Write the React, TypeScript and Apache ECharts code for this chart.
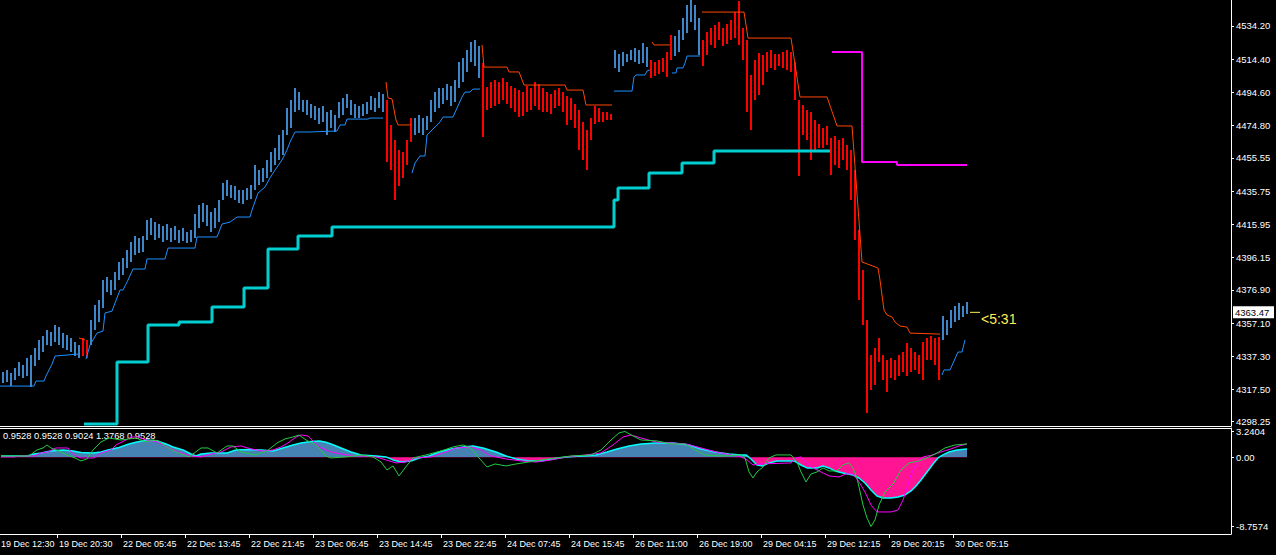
import React, { useEffect, useRef } from 'react';
import * as echarts from 'echarts';

// ---- axes ----
const priceTicks = [4534.2, 4514.4, 4494.6, 4474.8, 4455.55, 4435.75, 4415.95, 4396.15, 4376.9, 4357.1, 4337.3, 4317.5, 4298.25];
const timeTickIdx = [-4, 28, 60, 92, 124, 156, 188, 220, 252, 284, 316, 348, 380, 412, 444, 476];
const timeLabels = ['19 Dec 12:30', '19 Dec 20:30', '22 Dec 05:45', '22 Dec 13:45', '22 Dec 21:45', '23 Dec 06:45', '23 Dec 14:45', '23 Dec 22:45', '24 Dec 07:45', '24 Dec 15:45', '26 Dec 11:00', '26 Dec 19:00', '29 Dec 04:15', '29 Dec 12:15', '29 Dec 20:15', '30 Dec 05:15'];
const indTicks = [3.2404, 0, -8.7574];
const indHeader = '0.9528 0.9528 0.9024 1.3768 0.9528';
const lastPrice = 4363.47;
const timerText = '<5:31';

// ---- price bars (30-min sampling of the M15 chart) ----
const highs = [
  4327.9, 4329.1, 4327.3, 4330.3, 4333.8, 4332.1, 4336.2, 4338.0, 4342.2, 4347.0,
  4349.3, 4352.9, 4351.7, 4355.9, 4354.7, 4351.1, 4349.9, 4348.2, 4345.8, 4344.0,
  4348.2, 4347.0, 4358.9, 4367.8, 4370.8, 4382.7, 4384.5, 4382.7, 4387.5, 4393.5,
  4395.9, 4400.6, 4405.4, 4409.0, 4407.8, 4409.0, 4418.5, 4419.7, 4417.3, 4416.1,
  4414.9, 4416.1, 4413.7, 4414.9, 4412.6, 4413.7, 4411.4, 4412.6, 4422.1, 4427.5,
  4428.7, 4427.5, 4423.3, 4425.7, 4430.4, 4440.6, 4442.4, 4439.4, 4438.8, 4436.4,
  4436.4, 4437.6, 4439.4, 4451.3, 4448.3, 4449.5, 4454.3, 4459.1, 4461.4, 4469.2,
  4472.2, 4485.3, 4490.1, 4497.2, 4494.8, 4490.1, 4490.1, 4487.7, 4486.5, 4485.3,
  4486.5, 4482.9, 4484.1, 4481.1, 4488.9, 4491.3, 4493.6, 4490.1, 4487.7, 4486.5,
  4487.7, 4488.9, 4492.5, 4491.3, 4494.8, 4493.6, 4490.1, 4475.2, 4466.2, 4460.3,
  4459.1, 4466.2, 4479.3, 4479.3, 4481.1, 4479.3, 4480.5, 4490.1, 4494.8, 4497.2,
  4497.2, 4499.6, 4498.4, 4502.0, 4512.7, 4515.1, 4519.9, 4524.7, 4525.8, 4522.3,
  4512.1, 4497.8, 4500.8, 4502.0, 4500.8, 4503.2, 4500.8, 4498.4, 4497.2, 4496.0,
  4494.8, 4498.4, 4497.2, 4500.8, 4499.6, 4497.2, 4494.8, 4493.6, 4496.0, 4497.2,
  4494.8, 4492.5, 4491.3, 4487.7, 4484.1, 4477.0, 4472.2, 4479.3, 4486.5, 4485.3,
  4482.9, 4482.9, 4481.7, 4519.9, 4517.5, 4518.7, 4517.5, 4519.9, 4521.1, 4519.9,
  4524.1, 4521.7, 4513.9, 4512.7, 4513.9, 4515.1, 4518.7, 4528.8, 4528.2, 4531.8,
  4539.0, 4546.7, 4549.7, 4546.7, 4539.0, 4525.8, 4530.6, 4533.0, 4534.8, 4536.6,
  4533.0, 4535.4, 4537.8, 4542.5, 4549.1, 4533.0, 4525.8, 4505.0, 4513.9, 4518.1,
  4516.9, 4518.7, 4519.9, 4517.5, 4517.5, 4518.7, 4519.9, 4518.7, 4512.7, 4490.1,
  4487.1, 4484.1, 4482.9, 4478.1, 4475.8, 4473.4, 4474.6, 4467.4, 4468.6, 4466.2,
  4467.4, 4463.2, 4460.3, 4448.3, 4412.6, 4388.7, 4358.9, 4338.0, 4342.2, 4348.2,
  4338.0, 4335.0, 4336.2, 4335.0, 4338.0, 4339.8, 4345.2, 4342.2, 4339.8, 4338.0,
  4345.8, 4348.2, 4349.3, 4348.2, 4348.8, 4361.3, 4358.9, 4364.8, 4367.2, 4369.0,
  4367.2, 4369.6
];
const lows = [
  4321.3, 4321.9, 4319.5, 4323.1, 4325.5, 4324.3, 4325.5, 4318.9, 4331.5, 4335.0,
  4339.8, 4344.0, 4343.4, 4345.8, 4344.0, 4342.2, 4341.0, 4339.8, 4337.4, 4336.2,
  4337.4, 4336.2, 4344.0, 4352.9, 4357.7, 4366.0, 4375.6, 4373.8, 4376.8, 4382.7,
  4385.7, 4389.9, 4393.5, 4397.6, 4398.8, 4399.4, 4406.6, 4409.6, 4406.6, 4407.8,
  4405.4, 4406.6, 4405.4, 4406.6, 4404.8, 4406.0, 4404.8, 4405.4, 4407.8, 4413.7,
  4417.3, 4414.9, 4411.4, 4413.7, 4417.3, 4430.4, 4432.8, 4431.6, 4430.4, 4428.7,
  4428.1, 4430.4, 4431.0, 4436.4, 4439.4, 4441.2, 4443.6, 4447.1, 4451.3, 4454.3,
  4457.3, 4469.2, 4473.4, 4482.9, 4484.1, 4482.9, 4481.1, 4479.3, 4478.1, 4475.8,
  4477.0, 4469.2, 4473.4, 4471.0, 4479.3, 4481.1, 4485.3, 4481.1, 4479.3, 4479.3,
  4480.5, 4481.7, 4484.1, 4482.9, 4485.3, 4482.9, 4453.1, 4448.3, 4430.4, 4438.8,
  4443.6, 4451.3, 4465.0, 4469.2, 4470.4, 4469.2, 4472.2, 4477.0, 4482.9, 4485.3,
  4487.7, 4490.1, 4486.5, 4488.9, 4497.2, 4500.8, 4506.8, 4512.7, 4510.3, 4503.2,
  4468.0, 4484.1, 4485.3, 4486.5, 4487.7, 4490.1, 4487.7, 4485.3, 4482.9, 4479.9,
  4480.5, 4482.9, 4484.1, 4486.5, 4484.1, 4482.9, 4482.9, 4481.7, 4485.3, 4486.5,
  4482.9, 4475.2, 4478.1, 4473.4, 4460.3, 4454.3, 4448.3, 4466.2, 4475.8, 4477.0,
  4477.0, 4478.1, 4478.1, 4509.2, 4506.8, 4510.3, 4512.7, 4513.9, 4512.7, 4511.5,
  4512.1, 4509.7, 4503.2, 4504.4, 4505.6, 4506.8, 4503.8, 4513.9, 4516.3, 4518.7,
  4525.8, 4530.0, 4536.6, 4531.8, 4516.9, 4510.3, 4516.9, 4522.9, 4521.1, 4525.8,
  4522.3, 4523.5, 4525.8, 4527.0, 4522.9, 4513.9, 4482.9, 4472.2, 4490.1, 4493.1,
  4499.0, 4506.8, 4509.2, 4508.0, 4510.3, 4509.2, 4508.0, 4506.8, 4490.1, 4444.8,
  4469.2, 4466.2, 4454.3, 4460.3, 4461.4, 4461.4, 4463.2, 4445.3, 4451.3, 4449.5,
  4454.3, 4448.3, 4430.4, 4406.6, 4370.8, 4355.9, 4303.4, 4317.1, 4320.1, 4333.8,
  4323.1, 4315.9, 4324.3, 4323.1, 4325.5, 4327.9, 4325.5, 4327.9, 4329.1, 4326.7,
  4323.1, 4335.0, 4335.0, 4332.1, 4323.1, 4347.0, 4350.0, 4354.1, 4357.7, 4358.9,
  4360.7, 4362.5
];
// bar ranges (inclusive) drawn in the down-trend colour
const downRanges = [[20, 21], [96, 102], [120, 152], [162, 167], [175, 234]];

// ---- trailing lines: [bar index, price] ----
const supportSegs = [
  [[-0.5, 4319.5], [16.5, 4319.5], [17.5, 4322.5], [21.5, 4322.5], [22.5, 4325.5], [25.5, 4332.6], [27, 4337.4], [38.5, 4338.6]],
  [[42.5, 4335.6], [44.5, 4344.0], [48, 4351.1], [51, 4352.3], [52, 4363.1], [55.5, 4364.2], [57, 4369.0], [59.5, 4376.8], [61, 4376.8], [63.5, 4382.7], [66, 4389.3], [72, 4389.3], [73, 4395.3], [82, 4395.3], [83.5, 4401.8], [97, 4401.8], [98, 4408.4], [108, 4408.4], [110.5, 4416.1], [114.5, 4417.3], [118, 4420.3], [124.5, 4420.3], [125.5, 4424.5], [128.5, 4434.6], [132, 4438.2], [134.5, 4443.6], [137, 4448.3], [140.5, 4454.3], [143, 4460.3], [144.5, 4465.0], [147, 4471.0], [154.5, 4471.0], [168, 4471.6], [169.5, 4475.2], [172, 4475.2], [173, 4478.7], [183.5, 4478.7], [184.5, 4479.3], [191, 4479.3]],
  [[205.5, 4446.5], [207, 4452.5], [209.5, 4456.7], [212, 4456.7], [213, 4469.2], [215.5, 4472.2], [219.5, 4477.0], [221, 4479.9], [226, 4479.9], [228, 4485.3], [230.5, 4491.9], [232, 4494.8], [234.5, 4494.8], [236, 4496.6], [239.5, 4496.6]],
  [[306.5, 4495.4], [315.5, 4495.4], [316.5, 4503.8], [317.5, 4505.0], [322, 4505.0], [323, 4507.4], [324.5, 4508.0]],
  [[335.5, 4506.2], [337.5, 4506.2], [338, 4509.2], [341, 4509.2], [342, 4512.1], [343, 4516.3], [349.5, 4516.3]],
  [[470.5, 4326.1], [471.5, 4329.1], [474.5, 4329.1], [478.5, 4339.8], [480.5, 4339.8], [482, 4347.0]]
];
const resistanceSegs = [
  [[39, 4348.2], [42, 4347.0]],
  [[192.5, 4500.8], [193.5, 4491.3], [195.5, 4490.7], [197.5, 4478.1], [198.5, 4475.2], [205, 4475.2]],
  [[240.5, 4522.9], [241.5, 4509.7], [253, 4509.7], [254, 4506.8], [259, 4506.8], [261.5, 4499.0], [282, 4499.0], [283, 4496.0], [291, 4496.0], [292.5, 4487.1], [305.5, 4487.1]],
  [[325.5, 4524.7], [326.5, 4522.9], [334.5, 4522.9]],
  [[350.5, 4542.5], [371.5, 4542.5], [373.5, 4527.0], [395, 4527.0], [399.5, 4491.9], [413, 4491.9], [418, 4474.6], [425.5, 4474.6], [427.5, 4442.4], [430.5, 4393.5], [438.5, 4389.9], [439.5, 4382.7], [441.5, 4364.8], [443, 4361.9], [445.5, 4360.7], [447, 4357.7], [449.5, 4355.3], [453, 4354.7], [454.5, 4351.1], [469.5, 4350.5]]
];
const cyanSteps = [[41.5, 4296.9], [58, 4333.8], [73.5, 4355.9], [89, 4357.7], [105.5, 4366.6], [121.5, 4378.0], [133.5, 4401.2], [148.5, 4409.0], [165.5, 4414.3], [306.5, 4430.4], [308.5, 4437.6], [324, 4446.5], [340.5, 4452.5], [356.5, 4459.7], [414.5, 4459.7]];
const magentaSteps = [[415.5, 4518.7], [430.5, 4453.1], [448, 4451.3], [483, 4451.3]];

// ---- oscillator: [bar index, value] ----
const histPts = [
  [0, 0.15], [10, 0.15], [13.5, 0.19], [16.5, 0.40], [20, 0.53], [25, 0.78], [31, 0.91], [36, 0.78], [40, 0.59], [46, 0.53],
  [50, 0.66], [53.5, 0.91], [59, 1.23], [64, 1.67], [68, 1.92], [73, 2.17], [78, 2.05], [82.5, 1.67], [86, 1.29], [91, 0.91],
  [95, 0.40], [97.5, 0.15], [100, 0.40], [105, 0.53], [113, 0.53], [117.5, 0.91], [123.5, 0.98], [130, 0.91], [136, 0.78], [141, 1.16],
  [146, 1.54], [150, 1.79], [155, 1.99], [159, 2.05], [162, 1.92], [165, 1.67], [170, 1.16], [175, 0.66], [180, 0.28], [187.5, 0.15],
  [192.5, 0.03], [196, -0.35], [200, -0.61], [205, -0.48], [209, -0.10], [214, 0.15], [219, 0.66], [225, 1.04], [231, 1.29], [236, 1.41],
  [241, 1.16], [247.5, 0.66], [252.5, 0.15], [257.5, -0.23], [264, -0.48], [270, -0.48], [276, -0.23], [282.5, 0.03], [290, 0.15], [297.5, 0.28],
  [303, 0.66], [308, 1.04], [314, 1.41], [320, 1.67], [327.5, 1.79], [336, 1.79], [344, 1.54], [350, 1.04], [357, 0.66], [364, 0.40],
  [370, 0.28], [372.5, 0.28], [375, -0.23], [378, -1.0], [381, -1.11], [384, -0.73], [388, -0.48], [396.5, -0.48], [400, -0.99], [403, -1.36],
  [408, -1.36], [411, -1.11], [414, -1.36], [417, -1.74], [421, -2.0], [426, -2.25], [429, -2.63], [432, -3.26], [435, -4.14], [438, -4.90],
  [441, -5.15], [445, -5.15], [448.5, -5.03], [452, -4.77], [455, -4.27], [457.5, -3.64], [460, -2.88], [463, -1.87], [466, -0.86], [468.5, -0.10],
  [471, 0.28], [474, 0.66], [478, 0.91], [483, 1.04]
];
const greenPts = [
  [0, 0.15], [14, 0.15], [16, 0.53], [18, 0.91], [21, 1.16], [23, 1.54], [25, 1.16], [29, 0.78], [33, 0.28], [37, -0.10],
  [40, -0.48], [43, -0.23], [46, 0.91], [50, 1.92], [54, 2.42], [60, 2.17], [67.5, 2.42], [72.5, 1.92], [76, 2.17], [79, 2.05],
  [82.5, 1.29], [87.5, 0.66], [94, 0.03], [100, 1.16], [103.5, 1.16], [108, 0.53], [113, 1.41], [116, 1.41], [120, 0.66], [127, 0.28],
  [133, 0.78], [138, 1.79], [142, 2.30], [146, 2.55], [149, 2.80], [152.5, 2.17], [157.5, 1.54], [162.5, 0.15], [165, -0.10], [172.5, 0.03],
  [180, 0.28], [186, 0.03], [190, -0.61], [193, -1.62], [196, -1.11], [199, -2.37], [202, -1.36], [206, -0.10], [212.5, 0.28], [220, 0.78],
  [226, 1.29], [231, 1.54], [235, 1.16], [239, -0.10], [243, -1.24], [247, -0.86], [252.5, -1.11], [257.5, -0.86], [264, -0.61], [270, -0.35],
  [277.5, -0.10], [285, 0.15], [295, 0.28], [300, 0.91], [305, 2.17], [309, 3.06], [312, 3.2404], [316, 2.68], [320, 2.17], [328, 2.05],
  [335, 1.67], [342, 1.67], [347, 0.91], [352, 0.28], [360, 0.15], [370, 0.28], [372, -0.10], [374, -1.87], [376, -2.63], [378, -1.87],
  [381, -1.24], [384, -0.10], [387.5, 0.28], [395, 0.28], [398, -0.61], [400, -1.87], [402.5, -3.13], [405, -2.12], [408, -1.87], [411, -1.36],
  [414, -1.74], [418, -1.74], [421, -0.99], [424, -0.73], [426, -1.36], [428, -2.63], [431, -6.04], [433, -7.68], [435, -8.7574], [437, -7.93],
  [439, -6.04], [442, -4.40], [446, -3.39], [450, -1.62], [454, -0.73], [459, -0.48], [464, 0.03], [468, 0.53], [472, 1.16], [477, 1.54],
  [483, 1.67]
];
const magentaPts = [
  [0, 0.03], [6.5, 0.03], [10, 0.15], [16.5, 0.15], [20, 0.53], [23.5, 0.66], [27.5, 1.16], [33.5, 1.16], [35, 0.66], [37.5, 0.15],
  [40, -0.10], [46.5, -0.10], [50, 0.53], [55, 0.91], [57.5, 1.54], [62.5, 2.17], [65, 2.55], [68.5, 2.55], [72.5, 2.17], [78.5, 1.92],
  [82.5, 1.29], [88.5, 0.66], [95, 0.15], [100, 0.03], [105, 0.40], [110, 0.66], [115, 1.29], [120, 1.41], [125, 1.04], [131, 0.78],
  [136, 0.91], [140, 1.29], [143.5, 1.79], [147.5, 2.55], [150, 2.80], [153.5, 2.68], [156.5, 1.92], [160, 1.16], [165, 0.66], [172.5, 0.28],
  [180, 0.15], [187.5, 0.03], [192.5, -0.35], [197.5, -0.73], [202.5, -0.61], [207.5, -0.10], [215, 0.03], [222.5, 0.66], [227.5, 1.16], [235, 1.29],
  [240, 0.91], [245, 0.15], [252.5, -0.23], [260, -0.48], [267.5, -0.61], [275, -0.35], [282.5, 0.03], [292.5, 0.28], [300, 0.53], [306, 1.54],
  [311, 2.55], [315, 2.80], [320, 2.42], [327.5, 1.92], [335, 1.79], [342.5, 1.67], [350, 1.16], [357.5, 0.66], [365, 0.28], [370, 0.03],
  [373, -0.35], [376, -0.99], [380, -0.86], [395, -0.73], [397.5, -0.10], [400, 0.03], [402.5, -0.61], [406, -1.36], [410, -1.87], [414, -2.37],
  [419, -2.50], [422.5, -2.12], [426, -2.12], [429, -3.13], [432, -4.40], [435, -6.04], [438, -6.92], [445, -6.92], [448.5, -6.67], [451, -5.41],
  [453, -3.89], [455, -2.25], [458, -0.61], [461, 0.03], [466, 0.28], [470, 0.66], [475, 1.04], [479, 1.41], [483, 1.67]
];

const FONT = 'Liberation Sans, Arial, sans-serif';
const UP_FILL = '#4682b4';
const DOWN_FILL = '#ff1493';

export default function App() {
  const ref = useRef<HTMLDivElement>(null);
  useEffect(() => {
    document.body.style.margin = '0';
    document.body.style.background = '#000';
    const chart = echarts.init(ref.current as HTMLDivElement, null, { renderer: 'svg' });

    const isDown = (k: number) => downRanges.some(([a, b]) => k >= a && k <= b);
    const barData = highs.map((h, k) => [2 * k + 1, h, lows[k], isDown(k) ? 1 : 0]);

    // area fill: blue above zero, pink below (gradient relative to the area's bounding box)
    const hv = histPts.map((p) => p[1]);
    const hMax = Math.max(0, ...hv);
    const hMin = Math.min(0, ...hv);
    const z = hMax / (hMax - hMin);
    const areaFill = new echarts.graphic.LinearGradient(0, 0, 0, 1, [
      { offset: 0, color: UP_FILL }, { offset: z, color: UP_FILL },
      { offset: z, color: DOWN_FILL }, { offset: 1, color: DOWN_FILL }
    ]);

    const seg = (segs: number[][][], color: string, width: number) =>
      segs.map((s) => ({
        type: 'line', xAxisIndex: 0, yAxisIndex: 0, data: s, symbol: 'none', silent: true,
        lineStyle: { color, width }, itemStyle: { color }, clip: true
      }));

    const series: any[] = [
      {
        type: 'custom', xAxisIndex: 0, yAxisIndex: 0, data: barData, clip: true, silent: true,
        encode: { x: 0, y: [1, 2] },
        renderItem: (params: any, api: any) => {
          const i = api.value(0);
          const p1 = api.coord([i, api.value(1)]);
          const p2 = api.coord([i, api.value(2)]);
          return {
            type: 'rect',
            shape: { x: p1[0] - 1, y: p1[1], width: 2, height: Math.max(1, p2[1] - p1[1]) },
            style: { fill: api.value(3) ? '#ff0000' : '#3f86c9' }
          };
        }
      },
      ...seg(supportSegs, '#1e90ff', 1),
      ...seg(resistanceSegs, '#ff4500', 1),
      {
        type: 'line', xAxisIndex: 0, yAxisIndex: 0, data: cyanSteps, step: 'end', symbol: 'none', silent: true,
        lineStyle: { color: '#00ced1', width: 3 }, itemStyle: { color: '#00ced1' }, clip: true
      },
      {
        type: 'line', xAxisIndex: 0, yAxisIndex: 0, data: magentaSteps, step: 'end', symbol: 'none', silent: true,
        lineStyle: { color: '#ff00ff', width: 2 }, itemStyle: { color: '#ff00ff' }, clip: true
      },
      {
        type: 'line', xAxisIndex: 1, yAxisIndex: 1, data: histPts, symbol: 'none', silent: true,
        lineStyle: { width: 0, opacity: 0 }, itemStyle: { color: UP_FILL },
        areaStyle: { opacity: 1, color: areaFill, origin: 0 }
      },
      {
        type: 'line', xAxisIndex: 1, yAxisIndex: 1, data: histPts, symbol: 'none', silent: true,
        lineStyle: { color: '#00ffff', width: 1.5 }, itemStyle: { color: '#00ffff' }
      },
      {
        type: 'line', xAxisIndex: 1, yAxisIndex: 1, data: magentaPts, symbol: 'none', silent: true,
        lineStyle: { color: '#ff00ff', width: 1 }, itemStyle: { color: '#ff00ff' }
      },
      {
        type: 'line', xAxisIndex: 1, yAxisIndex: 1, data: greenPts, symbol: 'none', silent: true,
        lineStyle: { color: '#22cc44', width: 1 }, itemStyle: { color: '#22cc44' }
      }
    ];

    const white = { color: '#ffffff', width: 1 };
    const noSplit = { show: false };
    chart.setOption({
      animation: false,
      backgroundColor: '#000000',
      textStyle: { fontFamily: FONT },
      grid: [
        { left: -7, top: 0, width: 1238, height: 426, outerBoundsMode: 'none' },
        { left: -7, top: 428, width: 1238, height: 106, outerBoundsMode: 'none' }
      ],
      xAxis: [
        {
          gridIndex: 0, type: 'value', min: -4, max: 615, position: 'bottom',
          axisLine: { show: true, onZero: false, lineStyle: white }, axisTick: { show: false }, axisLabel: { show: false }, splitLine: noSplit
        },
        {
          gridIndex: 1, type: 'value', min: -4, max: 615, position: 'bottom',
          axisLine: { show: true, onZero: false, lineStyle: white },
          axisTick: { show: true, customValues: timeTickIdx, length: 4, lineStyle: white },
          axisLabel: {
            show: true, customValues: timeTickIdx, color: '#ffffff', fontSize: 9, fontFamily: FONT,
            align: 'left', margin: 5, padding: [0, 0, 0, 2],
            // the first label sits left of the plot; it is drawn separately so it stays fully visible
            formatter: (v: number) => {
              const k = timeTickIdx.indexOf(Math.round(v));
              return k > 0 ? timeLabels[k] : '';
            }
          },
          splitLine: noSplit
        },
        {
          gridIndex: 1, type: 'value', min: -4, max: 615, position: 'top',
          axisLine: { show: true, onZero: false, lineStyle: white }, axisTick: { show: false }, axisLabel: { show: false }, splitLine: noSplit
        }
      ],
      yAxis: [
        {
          gridIndex: 0, type: 'value', position: 'right', min: 4295.7, max: 4549.7,
          axisLine: { show: true, onZero: false, lineStyle: white },
          axisTick: { show: true, customValues: priceTicks, length: 3, lineStyle: white },
          axisLabel: {
            show: true, customValues: priceTicks, color: '#ffffff', fontSize: 9.5, fontFamily: FONT, margin: 5,
            formatter: (v: number) => v.toFixed(2)
          },
          splitLine: noSplit
        },
        {
          gridIndex: 1, type: 'value', position: 'right', min: -9.7046, max: 3.6824,
          axisLine: { show: true, onZero: false, lineStyle: white },
          axisTick: { show: true, customValues: indTicks, length: 3, lineStyle: white },
          axisLabel: {
            show: true, customValues: indTicks, color: '#ffffff', fontSize: 9.5, fontFamily: FONT, margin: 5,
            formatter: (v: number) => (v === 0 ? '0.00' : v.toFixed(4))
          },
          splitLine: noSplit
        }
      ],
      series
    });

    const lastIdx = 2 * (highs.length - 1) + 1;
    const py = chart.convertToPixel({ yAxisIndex: 0 }, lastPrice) as number;
    const px0 = chart.convertToPixel({ xAxisIndex: 0 }, lastIdx + 1.5) as number;
    const px1 = chart.convertToPixel({ xAxisIndex: 0 }, lastIdx + 6.5) as number;
    const axisX = chart.convertToPixel({ xAxisIndex: 0 }, 615) as number;
    const bottomY = 534;

    chart.setOption({
      graphic: [
        { type: 'line', silent: true, shape: { x1: px0, y1: py, x2: px1, y2: py }, style: { stroke: '#ffee55', lineWidth: 1 } },
        {
          type: 'text', silent: true, x: px1 + 1, y: py + 7,
          style: { text: timerText, fill: '#ffee55', font: `14px ${FONT}`, align: 'left', verticalAlign: 'middle' }
        },
        { type: 'rect', silent: true, shape: { x: axisX + 2, y: py - 6, width: 41, height: 12 }, style: { fill: '#ffffff' } },
        {
          type: 'text', silent: true, x: axisX + 4, y: py,
          style: { text: lastPrice.toFixed(2), fill: '#000000', font: `9.5px ${FONT}`, align: 'left', verticalAlign: 'middle' }
        },
        {
          type: 'text', silent: true, x: 3, y: 436,
          style: { text: indHeader, fill: '#ffffff', font: `9.3px ${FONT}`, align: 'left', verticalAlign: 'middle' }
        },
        {
          type: 'text', silent: true, x: 1, y: bottomY + 5,
          style: { text: timeLabels[0], fill: '#ffffff', font: `9px ${FONT}`, align: 'left', verticalAlign: 'top' }
        }
      ]
    });

    return () => chart.dispose();
  }, []);
  return <div ref={ref} style={{ position: 'absolute', left: 0, top: 0, width: 1276, height: 555 }} />;
}
